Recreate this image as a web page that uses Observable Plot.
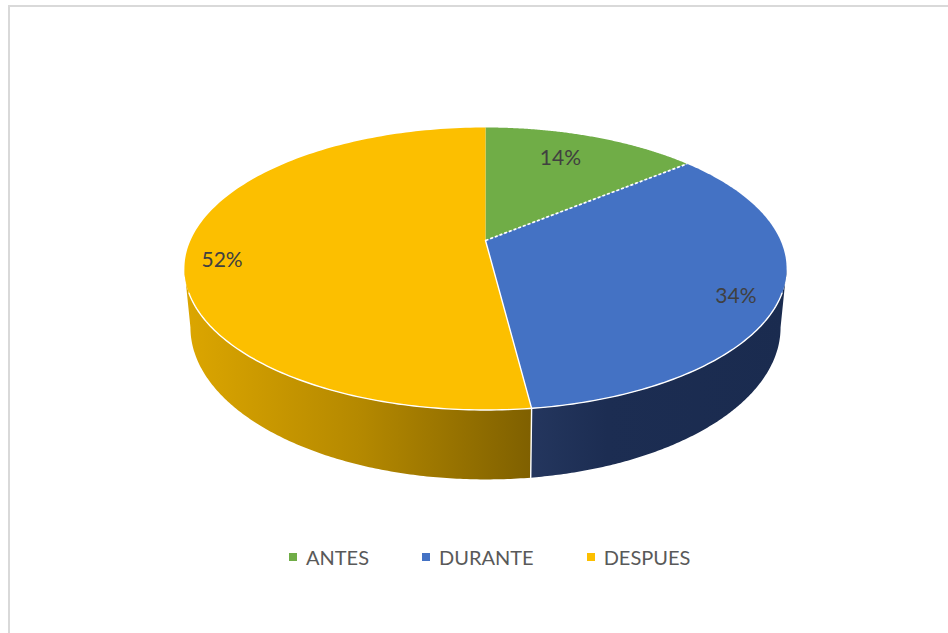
<!DOCTYPE html>
<html lang="es">
<head>
<meta charset="utf-8">
<script src="https://cdn.jsdelivr.net/npm/d3@7"></script>
<script src="https://cdn.jsdelivr.net/npm/@observablehq/plot@0.6"></script>
<style>
  html, body { margin: 0; padding: 0; background: #fff; overflow: hidden; }
  #sheet { position: absolute; left: 8px; top: 5px; width: 940px; height: 628px; box-sizing: border-box;
           border-left: 2px solid #d9d9d9; border-top: 2px solid #d9d9d9; }
  #chart { position: absolute; left: 0; top: 0; }
  #chart svg { display: block; }
  #legend { position: absolute; left: 289px; top: 544px; display: flex; font: 20px Lato, sans-serif; color: #595959; line-height: 26px; }
  #legend .item { display: flex; align-items: center; margin-right: 53px; }
  #legend .swatch { width: 8px; height: 8px; margin-right: 9px; }
</style>
</head>
<body>
<div id="sheet"></div>
<div id="chart"></div>
<div id="legend"></div>
<script>
// Share of the total in each phase
const categories = ["ANTES", "DURANTE", "DESPUES"];
const shares = [14, 34, 52];
const labels = ["14%", "34%", "52%"];
const topColors = ["#70ad47", "#4472c4", "#fcbf00"];

// Label anchors on the pie's face, in face units
const labelX = [0.254, 0.849, -0.893];
const labelY = [0.605, -0.413, -0.147];

// Perspective of the tilted disc: the far rim shrinks by this factor
const tilt = 0.2;
// Floor of the disc relative to its top face
const floorScaleX = 0.98;
const floorScaleY = 1.076;
const floorShiftY = -0.417;
// The white outline on the face starts where the rim comes into view
const outlineCos = -0.36;

const project = (angle, level) => {
  const X = Math.sin(angle), Y = Math.cos(angle), w = 1 + tilt * Y;
  return level === "top"
    ? {x: X / w, y: Y / w}
    : {x: floorScaleX * X / w, y: floorShiftY + floorScaleY * Y / w};
};

const arc = (a0, a1, level) =>
  d3.range(0, 1.0001, 1 / 160).map((t) => project(a0 + (a1 - a0) * t, level));

// Slice boundaries, clockwise from twelve o'clock
const total = d3.sum(shares);
const cuts = [0, ...d3.cumsum(shares).map((v) => (v / total) * 2 * Math.PI)];

const faces = categories.flatMap((name, i) => [
  {x: 0, y: 0, name},
  ...arc(cuts[i], cuts[i + 1], "top").map((p) => ({...p, name})),
  {x: 0, y: 0, name}
]);

// The rim is visible between the two silhouette angles of the disc
const silhouette = Math.acos(-tilt);
const wall = (a0, a1) => [...arc(a0, a1, "top"), ...arc(a0, a1, "floor").reverse()];
const blueWall = wall(silhouette, cuts[2]);
const yellowWall = wall(cuts[2], 2 * Math.PI - silhouette);
const outlineStart = Math.acos(outlineCos);

const gradient = (id, stops) => () => {
  const defs = d3.create("svg:defs");
  const g = defs.append("linearGradient").attr("id", id);
  stops.forEach(([offset, color]) => g.append("stop").attr("offset", offset).attr("stop-color", color));
  return defs.node();
};

const edge = (points, extra = {}) =>
  Plot.line(points, {x: "x", y: "y", stroke: "#fff", strokeWidth: 1.4, ...extra});

const chart = Plot.plot({
  width: 948,
  height: 540,
  margin: 0,
  x: {domain: [-1, 1], range: [190, 780], axis: null},
  y: {domain: [-1, 1], range: [375.6, 104.4], axis: null},
  color: {domain: categories, range: topColors},
  marks: [
    gradient("rimDespues", [[0, "#dca600"], [0.5, "#b58900"], [1, "#7f6000"]]),
    gradient("rimDurante", [[0, "#24365e"], [0.3, "#1c2d52"], [1, "#1a2b4f"]]),
    Plot.line(yellowWall, {x: "x", y: "y", fill: "url(#rimDespues)", stroke: "none"}),
    Plot.line(blueWall, {x: "x", y: "y", fill: "url(#rimDurante)", stroke: "none"}),
    edge([project(cuts[2], "top"), project(cuts[2], "floor")]),
    Plot.line(faces, {x: "x", y: "y", z: "name", fill: "name", stroke: "none"}),
    edge(arc(outlineStart, 2 * Math.PI - outlineStart, "top")),
    edge([{x: 0, y: 0}, project(cuts[1], "top")], {strokeWidth: 1.7, strokeDasharray: "3 2", strokeLinecap: "butt"}),
    edge([{x: 0, y: 0}, project(cuts[2], "top")]),
    Plot.text(labels, {
      x: labelX,
      y: labelY,
      text: (d) => d,
      fontFamily: "Lato, sans-serif",
      fontSize: 21,
      fill: "#404040"
    })
  ]
});
document.getElementById("chart").append(chart);

const legend = d3.select("#legend");
categories.forEach((name, i) => {
  const item = legend.append("div").attr("class", "item");
  item.append("div").attr("class", "swatch").style("background", topColors[i]);
  item.append("div").text(name);
});
</script>
</body>
</html>
